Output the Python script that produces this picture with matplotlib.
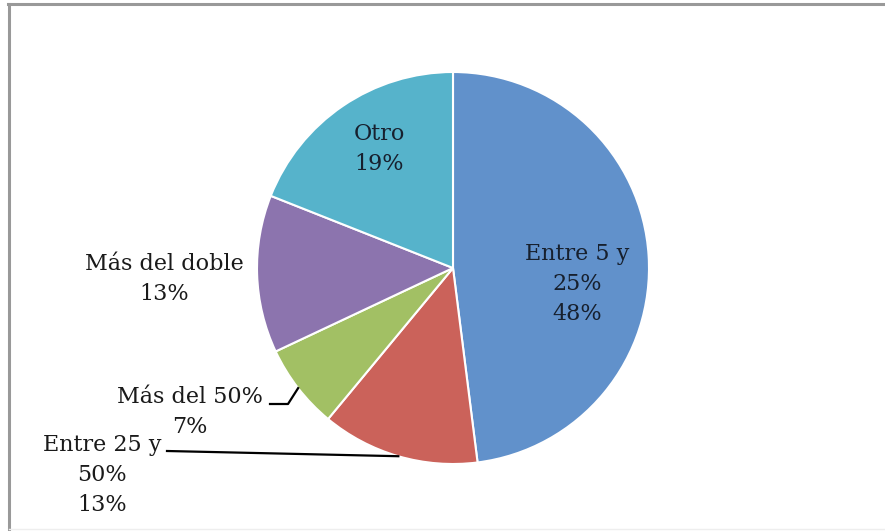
import numpy as np
import matplotlib.pyplot as plt
from matplotlib.lines import Line2D

labels = ["Entre 5 y\n25%", "Entre 25 y\n50%", "Más del 50%", "Más del doble", "Otro"]
shares = [48, 13, 7, 13, 19]
colors = ["#6191cb", "#cb625a", "#a2c064", "#8c74ae", "#56b3cb"]

W, H = 885, 531
fig = plt.figure(figsize=(W / 100, H / 100), dpi=100)
ax = fig.add_axes([0, 0, 1, 1])

cx, cy, r = 453, H - 268, 196
wedges, _ = ax.pie(shares, colors=colors, startangle=90, counterclock=False,
                   center=(cx, cy), radius=r, frame=True,
                   wedgeprops=dict(edgecolor="white", linewidth=1.5))
ax.set_xlim(0, W)
ax.set_ylim(0, H)
ax.set_aspect("equal")
ax.axis("off")

font = dict(family="DejaVu Serif", fontsize=16, linespacing=1.45,
            ha="center", va="center")


def edge_point(w):
    ang = np.deg2rad((w.theta1 + w.theta2) / 2)
    return cx + r * np.cos(ang), cy + r * np.sin(ang)


# (label centre x, y from top, inside?) per slice
spots = [(577, 284, True), (102, 475, False), (190, 412, False),
         (164, 279, False), (379, 149, True)]
for lab, val, (x, y, inside) in zip(labels, shares, spots):
    ax.text(x, H - y, f"{lab}\n{val}%",
            color="#17202e" if inside else "#1a1a1a", **font)

# leader lines for the two small slices
ex, ey = edge_point(wedges[2])
ax.plot([270, 288, ex], [H - 404, H - 404, ey], color="black", lw=1.6)
ex, ey = edge_point(wedges[1])
ax.plot([167, ex], [H - 451, ey], color="black", lw=1.6)

# frame around the chart area
fig.add_artist(Line2D([8 / W, 1], [1 - 4 / H, 1 - 4 / H], color="#999999", lw=2.2))
fig.add_artist(Line2D([9 / W, 9 / W], [0, 1 - 4 / H], color="#999999", lw=2.2))
fig.add_artist(Line2D([9 / W, 1], [2 / H, 2 / H], color="#eeeeee", lw=1))

fig.savefig("out.png", dpi=100)
